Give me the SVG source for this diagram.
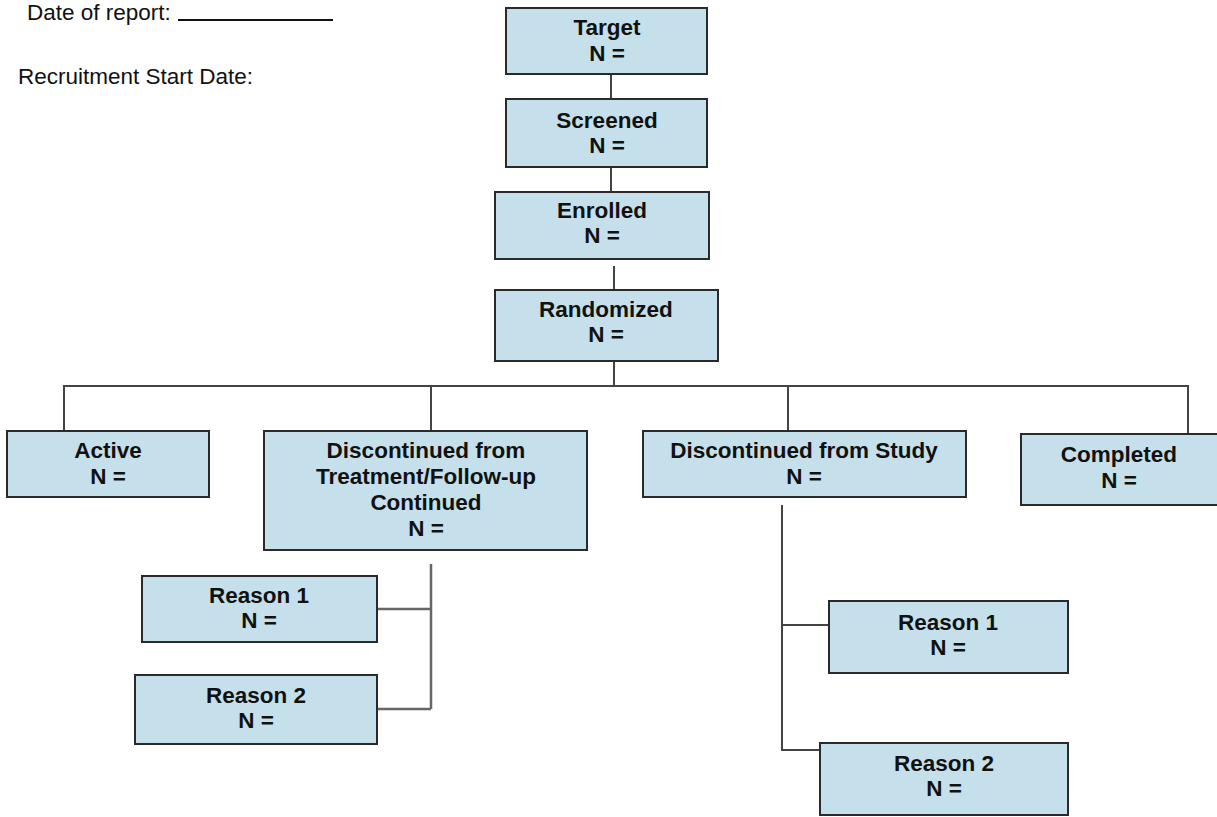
<svg xmlns="http://www.w3.org/2000/svg" width="1217" height="817" viewBox="0 0 1217 817">
<style>
.box{fill:#c5e0ea;stroke:#2a2a2a;stroke-width:2}
.t{font-family:"Liberation Sans",Arial,sans-serif;font-size:22.5px;font-weight:bold;fill:#111;text-anchor:middle}
.h{font-family:"Liberation Sans",Arial,sans-serif;font-size:22.5px;fill:#111}
.c{stroke:#444;stroke-width:2;fill:none}
.c2{stroke:#666;stroke-width:2.5;fill:none}
</style>
<rect width="1217" height="817" fill="#ffffff"/>
<g id="header">
<text class="h" x="27" y="20">Date of report:</text>
<line x1="178" y1="20" x2="333" y2="20" stroke="#111" stroke-width="2"/>
<text class="h" x="18" y="84">Recruitment Start Date:</text>
</g>
<g id="connectors">
<path class="c" d="M611 74V99M611 167V192M614 266V290M614 361V386"/>
<path class="c" d="M64 431V386H1188V434M431 386V431M788 386V431"/>
<path class="c2" d="M431 564V709M377 609H431M377 709H431"/>
<path class="c" d="M782 505V750H820M782 625H829"/>
</g>
<g id="target">
<rect class="box" x="506" y="8" width="201" height="66"/>
<text class="t" x="607" y="35">Target</text>
<text class="t" x="607" y="61">N =</text>
</g>
<g id="screened">
<rect class="box" x="506" y="99" width="201" height="68"/>
<text class="t" x="607" y="128">Screened</text>
<text class="t" x="607" y="153">N =</text>
</g>
<g id="enrolled">
<rect class="box" x="495" y="192" width="214" height="67"/>
<text class="t" x="602" y="218">Enrolled</text>
<text class="t" x="602" y="243">N =</text>
</g>
<g id="randomized">
<rect class="box" x="495" y="290" width="223" height="71"/>
<text class="t" x="606" y="317">Randomized</text>
<text class="t" x="606" y="342">N =</text>
</g>
<g id="active">
<rect class="box" x="7" y="431" width="202" height="66"/>
<text class="t" x="108" y="458">Active</text>
<text class="t" x="108" y="484">N =</text>
</g>
<g id="disc-treatment">
<rect class="box" x="264" y="431" width="323" height="119"/>
<text class="t" x="426" y="458">Discontinued from</text>
<text class="t" x="426" y="484">Treatment/Follow-up</text>
<text class="t" x="426" y="510">Continued</text>
<text class="t" x="426" y="536">N =</text>
</g>
<g id="disc-study">
<rect class="box" x="643" y="431" width="323" height="66"/>
<text class="t" x="804" y="458">Discontinued from Study</text>
<text class="t" x="804" y="484">N =</text>
</g>
<g id="completed">
<rect class="box" x="1021" y="434" width="204" height="71"/>
<text class="t" x="1119" y="462">Completed</text>
<text class="t" x="1119" y="488">N =</text>
</g>
<g id="reason1-left">
<rect class="box" x="142" y="576" width="235" height="66"/>
<text class="t" x="259" y="603">Reason 1</text>
<text class="t" x="259" y="628">N =</text>
</g>
<g id="reason2-left">
<rect class="box" x="135" y="675" width="242" height="69"/>
<text class="t" x="256" y="703">Reason 2</text>
<text class="t" x="256" y="728">N =</text>
</g>
<g id="reason1-right">
<rect class="box" x="829" y="601" width="239" height="72"/>
<text class="t" x="948" y="630">Reason 1</text>
<text class="t" x="948" y="655">N =</text>
</g>
<g id="reason2-right">
<rect class="box" x="820" y="743" width="248" height="72"/>
<text class="t" x="944" y="771">Reason 2</text>
<text class="t" x="944" y="796">N =</text>
</g>
</svg>
